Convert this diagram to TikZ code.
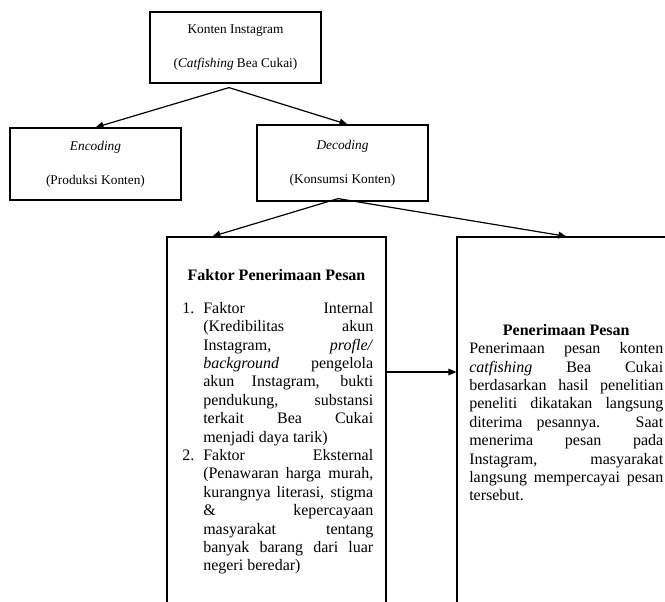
\documentclass[tikz,border=0pt]{standalone}
\usepackage{fontspec}
\setmainfont{Liberation Serif}
\usetikzlibrary{arrows.meta,calc}
\begin{document}
\begin{tikzpicture}[x=0.75pt,y=-0.75pt,
  box/.style={draw,line width=0.9pt,inner sep=0pt,align=center,font=\fontsize{10}{12}\selectfont},
  frame/.style={draw,line width=0.9pt,inner sep=0pt},
  arr/.style={line width=0.9pt,-{Triangle[length=6pt,width=5pt]}},
  bodytext/.style={anchor=north west,inner sep=0pt,align=justify},
  ]
\useasboundingbox (0,0) rectangle (665,601);
\clip (0,0) rectangle (665,601);
% top level
\node[box,minimum width=128.25pt,minimum height=53.25pt] (top) at (235.5,47.5)
  {Konten Instagram\\[14pt](\textit{Catfishing} Bea Cukai)};
\node[box,minimum width=128.25pt,minimum height=54pt] (enc) at (95.5,164)
  {\textit{Encoding}\\[13.5pt](Produksi Konten)};
\node[box,minimum width=128.25pt,minimum height=57pt] (dec) at (342.5,163)
  {\textit{Decoding}\\[13.5pt](Konsumsi Konten)};
% bottom boxes (cut by the page edge)
\node[frame,minimum width=164.25pt,minimum height=287.25pt] (fak) at (276.5,428.5) {};
\node[frame,minimum width=167.25pt,minimum height=287.25pt] (pen) at (568.5,428.5) {};
% texts
\node[inner sep=0pt,font=\bfseries\fontsize{12}{13}\selectfont] (faktitle) at (276.5,275)
  {Faktor Penerimaan Pesan};
\node[bodytext,text width=143.25pt,font=\fontsize{12}{13.8}\selectfont] (faklist) at (182,302)
  {\setlength{\parindent}{0pt}%
   \hangindent=15.75pt\hangafter=1\noindent\makebox[15.75pt][l]{1.}Faktor Internal\linebreak
   (Kredibilitas akun\linebreak
   Instagram, \textit{profle/}\linebreak
   \textit{background} pengelola\linebreak
   akun Instagram, bukti\linebreak
   pendukung, substansi\linebreak
   terkait Bea Cukai\linebreak
   menjadi daya tarik)\par
   \hangindent=15.75pt\hangafter=1\noindent\makebox[15.75pt][l]{2.}Faktor Eksternal\linebreak
   (Penawaran harga murah,\linebreak
   kurangnya literasi, stigma\linebreak
   \& kepercayaan\linebreak
   masyarakat tentang\linebreak
   banyak barang dari luar\linebreak
   negeri beredar)\par};
\node[bodytext,text width=145.5pt,font=\fontsize{12}{13.8}\selectfont] (pentext) at (469,324)
  {\setlength{\parindent}{0pt}%
   {\centering\bfseries Penerimaan Pesan\par}
   \noindent Penerimaan pesan konten\linebreak
   \textit{catfishing} Bea Cukai\linebreak
   berdasarkan hasil penelitian\linebreak
   peneliti dikatakan langsung\linebreak
   diterima pesannya. Saat\linebreak
   menerima pesan pada\linebreak
   Instagram, masyarakat\linebreak
   langsung mempercayai pesan\linebreak
   tersebut.\par};
% connectors
\draw[arr] ($(top.south)+(-6.5,4)$) -- (enc.north);
\draw[arr] ($(top.south)+(-6.5,4)$) -- ($(dec.north)+(5,0)$);
\draw[arr] ($(dec.south)+(-4.5,-3)$) -- ($(fak.north west)+(46,0)$);
\draw[arr] ($(dec.south)+(-4.5,-3)$) -- ($(pen.north west)+(110,0)$);
\coordinate (midrow) at (0,372);
\draw[arr] (fak.east |- midrow) -- (pen.west |- midrow);
\end{tikzpicture}
\end{document}
